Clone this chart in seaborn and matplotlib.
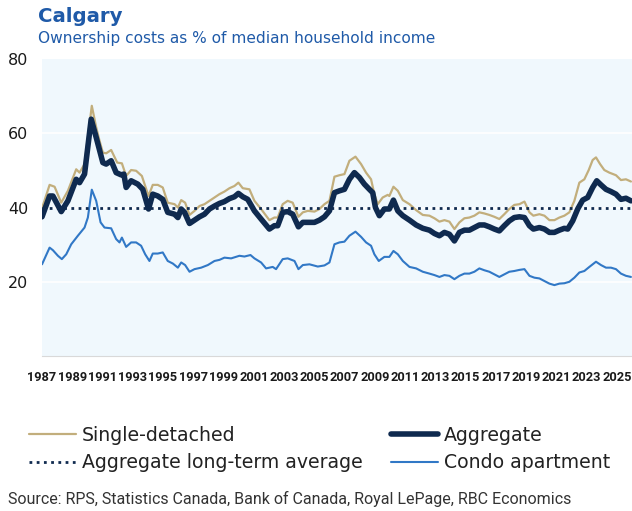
import matplotlib
matplotlib.use("Agg")
import matplotlib.pyplot as plt
import seaborn as sns
import pandas as pd

# Datos (año decimal, % del ingreso)
agg_years = [1987.00, 1987.50, 1987.72, 1988.27, 1988.71, 1989.26, 1989.48, 1989.81,
             1990.25, 1990.58, 1991.02, 1991.24, 1991.57, 1991.90, 1992.23, 1992.41,
             1992.56, 1992.89, 1993.33, 1993.66, 1994.04, 1994.32, 1994.65, 1994.98,
             1995.31, 1995.76, 1995.98, 1996.20, 1996.42, 1996.75, 1997.08, 1997.41,
             1997.74, 1998.07, 1998.40, 1998.73, 1999.06, 1999.39, 1999.72, 1999.98,
             2000.27, 2000.60, 2001.04, 2001.48, 2002.03, 2002.36, 2002.58, 2002.91,
             2003.24, 2003.57, 2003.95, 2004.24, 2004.57, 2005.01, 2005.34, 2005.67,
             2006.00, 2006.33, 2006.66, 2006.99, 2007.32, 2007.65, 2007.98, 2008.31,
             2008.64, 2008.86, 2009.04, 2009.30, 2009.63, 2009.96, 2010.23, 2010.52,
             2010.85, 2011.29, 2011.73, 2012.17, 2012.61, 2012.94, 2013.27, 2013.60,
             2013.93, 2014.26, 2014.59, 2014.92, 2015.25, 2015.58, 2015.91, 2016.24,
             2016.57, 2016.90, 2017.23, 2017.56, 2017.89, 2018.22, 2018.56, 2018.89,
             2019.22, 2019.48, 2019.88, 2020.21, 2020.54, 2020.87, 2021.20, 2021.53,
             2021.75, 2022.08, 2022.41, 2022.74, 2023.07, 2023.40, 2023.67, 2023.95,
             2024.28, 2024.61, 2024.94, 2025.27, 2025.60, 2025.93]
agg_values = [37.5, 43.1, 43.1, 38.9, 41.8, 47.6, 46.7, 49.0,
              63.8, 58.9, 52.1, 51.7, 52.6, 49.4, 48.8, 49.0,
              45.4, 47.2, 46.3, 44.9, 39.6, 43.6, 43.1, 42.2,
              38.7, 38.2, 37.3, 39.6, 38.7, 35.7, 36.6, 37.5,
              38.2, 39.6, 40.4, 41.1, 41.6, 42.4, 42.9, 43.8,
              42.9, 42.2, 39.1, 36.9, 34.2, 35.1, 35.1, 38.7,
              38.9, 38.2, 34.8, 36.0, 36.0, 36.0, 36.6, 37.5,
              39.1, 44.0, 44.5, 44.9, 47.6, 49.4, 48.1, 46.3,
              44.9, 44.0, 40.0, 37.8, 39.6, 39.6, 42.0, 39.1,
              37.8, 36.6, 35.3, 34.4, 33.9, 33.0, 32.4, 33.3,
              32.8, 31.0, 33.3, 33.9, 33.9, 34.6, 35.3, 35.3,
              34.8, 34.2, 33.7, 35.1, 36.4, 37.3, 37.5, 37.3,
              35.1, 34.2, 34.6, 34.2, 33.3, 33.3, 33.9, 34.4,
              34.2, 36.4, 39.6, 42.0, 42.7, 45.4, 47.2, 46.1,
              44.9, 44.3, 43.6, 42.2, 42.5, 41.8]

single_years = [1987.00, 1987.50, 1987.83, 1988.27, 1988.71, 1989.26, 1989.48, 1989.81,
                1990.03, 1990.29, 1990.58, 1990.80, 1991.02, 1991.24, 1991.57, 1991.97,
                1992.28, 1992.56, 1992.89, 1993.22, 1993.60, 1994.04, 1994.32, 1994.65,
                1994.98, 1995.31, 1995.76, 1995.98, 1996.20, 1996.46, 1996.75, 1997.08,
                1997.41, 1997.74, 1998.07, 1998.40, 1998.73, 1999.06, 1999.39, 1999.72,
                1999.98, 2000.27, 2000.71, 2001.04, 2001.48, 2002.03, 2002.36, 2002.58,
                2002.91, 2003.24, 2003.57, 2003.95, 2004.24, 2004.57, 2005.01, 2005.34,
                2005.67, 2006.00, 2006.33, 2006.66, 2006.99, 2007.32, 2007.72, 2008.09,
                2008.42, 2008.75, 2008.97, 2009.19, 2009.52, 2009.85, 2009.96, 2010.23,
                2010.52, 2010.85, 2011.29, 2011.73, 2012.17, 2012.61, 2012.94, 2013.27,
                2013.60, 2013.93, 2014.26, 2014.59, 2014.92, 2015.25, 2015.58, 2015.91,
                2016.24, 2016.57, 2016.90, 2017.23, 2017.56, 2017.89, 2018.22, 2018.56,
                2018.89, 2019.22, 2019.48, 2019.88, 2020.21, 2020.54, 2020.87, 2021.20,
                2021.53, 2021.86, 2022.19, 2022.52, 2022.85, 2023.14, 2023.40, 2023.62,
                2023.89, 2024.17, 2024.50, 2024.94, 2025.27, 2025.60, 2025.93]
single_values = [39.8, 46.1, 45.6, 41.3, 44.5, 50.3, 49.4, 51.7,
                 58.9, 67.4, 61.6, 58.0, 54.8, 54.6, 55.5, 52.1,
                 51.9, 48.5, 50.1, 49.9, 48.5, 43.1, 46.1, 46.1,
                 45.4, 41.3, 40.9, 40.0, 42.0, 41.3, 38.0, 39.1,
                 40.4, 40.9, 41.8, 42.7, 43.6, 44.3, 45.2, 45.8,
                 46.7, 45.2, 44.9, 41.8, 39.6, 36.6, 37.3, 37.3,
                 40.9, 41.8, 41.3, 37.5, 38.7, 39.1, 38.9, 39.6,
                 40.9, 41.8, 48.3, 48.7, 49.0, 52.6, 53.7, 51.7,
                 49.4, 47.6, 43.6, 40.9, 42.7, 43.4, 43.1, 45.6,
                 44.5, 42.0, 40.9, 39.3, 38.0, 37.8, 37.1, 36.2,
                 36.6, 36.2, 34.2, 36.0, 37.1, 37.3, 37.8, 38.7,
                 38.4, 38.0, 37.5, 36.9, 38.2, 39.6, 40.7, 40.9,
                 41.6, 38.7, 37.8, 38.2, 37.8, 36.6, 36.6, 37.3,
                 37.8, 38.7, 41.8, 46.7, 47.6, 50.1, 52.8, 53.5,
                 51.7, 50.1, 49.4, 48.7, 47.4, 47.6, 47.0]

condo_years = [1987.00, 1987.50, 1987.72, 1988.05, 1988.31, 1988.60, 1988.93, 1989.37,
               1989.81, 1990.03, 1990.29, 1990.58, 1990.87, 1991.13, 1991.57, 1991.90,
               1992.12, 1992.28, 1992.56, 1992.89, 1993.22, 1993.55, 1993.82, 1994.10,
               1994.32, 1994.65, 1994.98, 1995.31, 1995.65, 1995.98, 1996.20, 1996.46,
               1996.75, 1997.08, 1997.52, 1997.96, 1998.40, 1998.73, 1999.06, 1999.50,
               2000.05, 2000.38, 2000.78, 2001.04, 2001.48, 2001.81, 2002.25, 2002.47,
               2002.91, 2003.24, 2003.69, 2003.95, 2004.24, 2004.68, 2005.23, 2005.67,
               2006.00, 2006.33, 2006.66, 2006.99, 2007.32, 2007.72, 2008.09, 2008.42,
               2008.75, 2008.97, 2009.26, 2009.63, 2009.96, 2010.23, 2010.52, 2010.85,
               2011.29, 2011.73, 2012.17, 2012.61, 2012.94, 2013.27, 2013.60, 2013.93,
               2014.26, 2014.59, 2014.92, 2015.25, 2015.58, 2015.91, 2016.24, 2016.57,
               2016.90, 2017.23, 2017.56, 2017.89, 2018.22, 2018.56, 2018.89, 2019.22,
               2019.55, 2019.88, 2020.21, 2020.54, 2020.87, 2021.20, 2021.53, 2021.86,
               2022.19, 2022.52, 2022.85, 2023.18, 2023.62, 2023.95, 2024.28, 2024.61,
               2024.94, 2025.27, 2025.60, 2025.93]
condo_values = [24.7, 29.2, 28.5, 27.0, 26.1, 27.4, 30.1, 32.4,
                34.6, 37.3, 44.8, 41.8, 36.0, 34.6, 34.4, 31.5,
                30.6, 31.9, 29.4, 30.6, 30.6, 29.7, 27.4, 25.6,
                27.6, 27.6, 27.9, 25.6, 24.9, 23.8, 25.2, 24.5,
                22.7, 23.4, 23.8, 24.5, 25.6, 25.9, 26.5, 26.3,
                27.0, 26.8, 27.2, 26.3, 25.2, 23.6, 24.0, 23.4,
                26.1, 26.3, 25.6, 23.4, 24.5, 24.7, 24.1, 24.4,
                25.2, 30.1, 30.6, 30.8, 32.4, 33.5, 32.1, 30.6,
                29.7, 27.4, 25.6, 26.7, 26.7, 28.3, 27.4, 25.6,
                24.0, 23.6, 22.7, 22.2, 21.8, 21.3, 21.8, 21.6,
                20.7, 21.6, 22.2, 22.2, 22.7, 23.6, 23.1, 22.7,
                22.0, 21.3, 22.0, 22.7, 22.9, 23.2, 23.4, 21.6,
                21.1, 20.9, 20.2, 19.5, 19.1, 19.5, 19.6, 20.0,
                21.1, 22.5, 22.9, 24.0, 25.4, 24.5, 23.8, 23.8,
                23.4, 22.2, 21.6, 21.3]

agg_long_term_avg = 40.0

x_labels = [str(y) for y in range(1987, 2026, 2)]
y_ticks = [20, 40, 60, 80]

C_SINGLE = "#c2ae7c"
C_AGG = "#0f2a4f"
C_CONDO = "#3178c6"
C_TITLE = "#1f5aa8"


def main():
    sns.set_style("white")
    plt.rcParams["font.family"] = ["DejaVu Sans"]

    fig = plt.figure(figsize=(6.32, 5.11), dpi=100)
    ax = fig.add_axes([0.0665, 0.3033, 0.9335, 0.5812])
    ax.set_facecolor("#f0f8fd")

    df_single = pd.DataFrame({"year": single_years, "value": single_values})
    df_agg = pd.DataFrame({"year": agg_years, "value": agg_values})
    df_condo = pd.DataFrame({"year": condo_years, "value": condo_values})

    for yv in y_ticks[:-1]:
        ax.axhline(yv, color="white", lw=1.2, zorder=0.5)

    sns.lineplot(data=df_single, x="year", y="value", ax=ax, color=C_SINGLE,
                 lw=1.6, estimator=None, sort=False, label="Single-detached")
    sns.lineplot(data=df_condo, x="year", y="value", ax=ax, color=C_CONDO,
                 lw=1.5, estimator=None, sort=False, label="Condo apartment")
    ax.axhline(agg_long_term_avg, color=C_AGG, lw=2.0, ls=(0, (1, 1.6)),
               label="Aggregate long-term average")
    sns.lineplot(data=df_agg, x="year", y="value", ax=ax, color=C_AGG,
                 lw=4.0, estimator=None, sort=False, label="Aggregate")

    ax.set_xlim(1987, 2026)
    ax.set_ylim(0, 80)
    ax.set_xlabel("")
    ax.set_ylabel("")

    ax.set_yticks(y_ticks)
    ax.set_yticklabels([str(v) for v in y_ticks], fontsize=11.5, color="#1a1a1a")
    ax.tick_params(axis="y", length=0, pad=10)

    ax.set_xticks(range(1987, 2026, 2))
    ax.set_xticks(range(1987, 2027), minor=True)
    ax.set_xticklabels(x_labels, fontsize=9.2, fontweight="bold", color="#1a1a1a",
                       family=["Roboto", "DejaVu Sans"])
    ax.tick_params(axis="x", which="both", length=4, color="#cccccc", width=0.8,
                   pad=7)

    for s in ["top", "right", "left"]:
        ax.spines[s].set_visible(False)
    ax.spines["bottom"].set_color("#d9d9d9")
    ax.spines["bottom"].set_linewidth(0.8)

    # Leyenda en dos columnas
    handles, labels = ax.get_legend_handles_labels()
    by_label = {lab: h for h, lab in zip(handles, labels)}
    names = ["Single-detached", "Aggregate long-term average", "Aggregate", "Condo apartment"]
    ax.legend([by_label[n] for n in names], names, ncol=2, frameon=False,
              loc="upper left", bbox_to_anchor=(-0.035, -0.21),
              fontsize=13.6, handlelength=2.5, handletextpad=0.3, columnspacing=1.5,
              labelspacing=0.45, labelcolor="#222222", borderaxespad=0)

    fig.text(38 / 632, 1 - 16 / 511, "Calgary", fontsize=14.2, fontweight="bold",
             color=C_TITLE, va="center", ha="left")
    fig.text(38 / 632, 1 - 38 / 511, "Ownership costs as % of median household income",
             fontsize=11.1, color=C_TITLE, va="center", ha="left")
    fig.text(8 / 632, 1 - 499 / 511,
             "Source: RPS, Statistics Canada, Bank of Canada, Royal LePage, RBC Economics",
             fontsize=11.5, color="#333333", va="center", ha="left",
             family=["Roboto", "DejaVu Sans"])

    fig.savefig("out.png", dpi=100)
    plt.close(fig)


if __name__ == "__main__":
    main()
